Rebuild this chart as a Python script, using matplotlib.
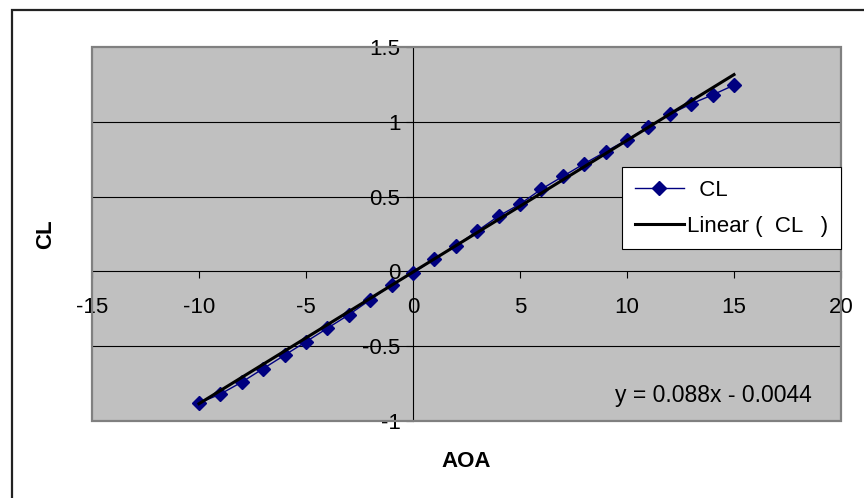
import numpy as np
import matplotlib
matplotlib.use("Agg")
import matplotlib.pyplot as plt
from matplotlib.patches import Rectangle

plt.rcParams['font.family'] = ['Liberation Sans', 'DejaVu Sans']

# angle of attack (deg) and lift coefficient
aoa = [-10, -9, -8, -7, -6, -5, -4, -3, -2, -1, 0, 1, 2, 3, 4,
       5, 6, 7, 8, 9, 10, 11, 12, 13, 14, 15]
cl = [-0.88, -0.82, -0.74, -0.65, -0.56, -0.47, -0.38, -0.29, -0.19, -0.09,
      -0.01, 0.085, 0.17, 0.27, 0.37, 0.45, 0.55, 0.635, 0.72, 0.80,
      0.88, 0.965, 1.05, 1.12, 1.18, 1.245]

# trendline as printed on the chart
slope = 0.088
intercept = -0.0044

xticks = [-15, -10, -5, 0, 5, 10, 15, 20]
yticks = [-1, -0.5, 0, 0.5, 1, 1.5]

W, H = 864, 498
fig = plt.figure(figsize=(W / 100, H / 100), dpi=100)
fig.patch.set_facecolor('white')

# outer chart frame (only left/top edges inside the picture)
fig.patches.append(Rectangle((12 / W, -0.5), 2.0, 1.5 - 10 / H,
                             transform=fig.transFigure, fill=False,
                             edgecolor='#222222', linewidth=1.6))

ax = fig.add_axes([92 / W, 1 - 421 / H, (841 - 92) / W, (421 - 47) / H])
ax.set_facecolor('#c0c0c0')
ax.set_xlim(-15, 20)
ax.set_ylim(-1, 1.5)

# gridlines
for y in yticks[1:-1]:
    if y != 0:
        ax.axhline(y, color='black', linewidth=0.8, zorder=1)

# axes through the origin
for s in ['top', 'right']:
    ax.spines[s].set_visible(False)
ax.spines['left'].set_position(('data', 0))
ax.spines['bottom'].set_position(('data', 0))
ax.spines['left'].set_linewidth(0.8)
ax.spines['bottom'].set_linewidth(0.8)
ax.add_patch(Rectangle((0, 0), 1, 1, transform=ax.transAxes, fill=False,
                       edgecolor='#808080', linewidth=1.6, clip_on=False,
                       zorder=5))

ax.set_xticks(xticks)
ax.set_yticks(yticks)
ax.set_xticklabels([str(v) for v in xticks])
ax.set_yticklabels(['-1', '-0.5', '0', '0.5', '1', '1.5'])
ax.tick_params(axis='x', direction='out', length=5, width=0.8,
               labelsize=16, pad=13.5)
ax.tick_params(axis='y', direction='out', length=5, width=0.8,
               labelsize=16, pad=4)

xs = np.array([aoa[0], aoa[-1]])
ax.plot(aoa, cl, color='#000080', linewidth=1, marker='D', markersize=7,
        label='  CL', zorder=3)
ax.plot(xs, slope * xs + intercept, color='black', linewidth=2.2,
        label='Linear (  CL   )', zorder=4)

fig.text(466 / W, 1 - 461 / H, 'AOA', fontsize=16, fontweight='bold',
         ha='center', va='center')
fig.text(46 / W, 1 - 234 / H, 'CL', fontsize=16, fontweight='bold',
         ha='center', va='center', rotation=90)
fig.text(615 / W, 1 - 395 / H, 'y = 0.088x - 0.0044', fontsize=16.5,
         ha='left', va='center')

leg = ax.legend(loc='upper left', bbox_to_anchor=(622 / W, 1 - 167 / H),
                bbox_transform=fig.transFigure, borderaxespad=0,
                fontsize=16, fancybox=False, framealpha=1,
                edgecolor='black', handlelength=2.2, handletextpad=0.15,
                labelspacing=0.66, borderpad=0.58)
leg.get_frame().set_linewidth(0.8)
leg.set_zorder(6)

fig.savefig('out.png', dpi=100)
